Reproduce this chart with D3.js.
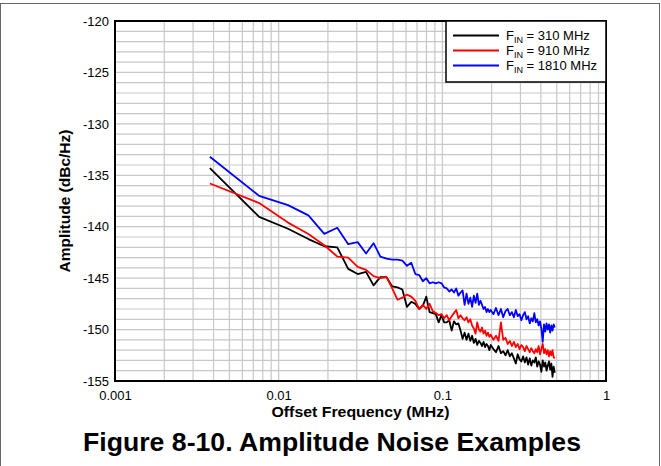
<!DOCTYPE html>
<html><head><meta charset="utf-8">
<script src="https://cdn.jsdelivr.net/npm/d3@7"></script>
<style>body{margin:0;background:#fff;} svg{display:block;font-family:"Liberation Sans",Arial,Helvetica,sans-serif;}</style>
</head><body><svg id="c" width="661" height="466"></svg>
<script>
// Offset frequency in kHz
const freqKHz = [3.8,7.6,11.4,15.2,19,22.8,26.6,30.4,34.2,38,41.8,45.6,49.4,53.2,57,60.8,64.6,68.4,72.2,76,
79.8,83.6,87.4,91.2,95,98.8,102.6,106.4,110.2,114,117.8,121.6,125.4,129.2,133,136.8,140.6,144.4,148.2,152,
155.8,159.6,163.4,167.2,171,174.8,178.6,182.4,186.2,190,193.8,197.6,205.2,212.8,220.4,228,235.6,243.2,250.8,258.4,
266,273.6,281.2,288.8,296.4,304,311.6,319.2,326.8,334.4,342,349.6,357.2,364.8,372.4,380,387.6,395.2,402.8,410.4,
418,425.6,433.2,440.8,448.4,456,463.6,471.2,478.8,486.4];
// Amplitude noise, dBc/Hz
const ampFin310 = [-134.3,-139.05,-140.2,-141.2,-141.9,-142.0,-144.1,-144.6,-144.4,-145.7,-144.9,-144.9,-145.8,-145.9,-146.1,-147.8,-147.3,-147.5,-148.0,-147.7,
-146.8,-148.3,-148.4,-148.5,-149.3,-148.6,-149.3,-149.3,-149.1,-150.1,-149.2,-149.5,-149.4,-150.1,-150.9,-150.3,-151.0,-150.4,-151.1,-150.6,
-151.3,-150.9,-151.5,-151.1,-151.3,-151.6,-151.2,-151.7,-151.4,-151.6,-152.0,-151.5,-151.9,-152.2,-151.6,-152.3,-152.1,-152.5,-152.0,-152.6,
-152.3,-152.8,-153.3,-152.4,-152.9,-153.1,-152.6,-153.2,-152.7,-153.4,-152.8,-153.5,-153.0,-153.2,-152.7,-153.6,-153.1,-153.4,-154.1,-153.0,
-153.6,-153.2,-154.0,-153.5,-153.1,-153.9,-153.3,-154.6,-153.6,-154.2];
const ampFin910 = [-135.8,-137.7,-139.6,-140.7,-141.8,-142.9,-143.0,-143.9,-144.2,-144.8,-145.0,-144.9,-146.0,-147.1,-146.9,-146.6,-146.8,-147.2,-148.0,-147.6,
-148.0,-147.5,-148.2,-148.4,-148.6,-148.5,-148.9,-148.6,-149.1,-148.7,-148.4,-148.1,-148.9,-148.6,-148.9,-149.1,-148.8,-149.3,-149.0,-149.6,
-149.9,-150.4,-149.3,-150.0,-150.2,-149.8,-150.4,-150.1,-150.6,-150.3,-150.7,-150.5,-151.0,-150.6,-151.1,-149.3,-151.0,-150.8,-151.4,-151.1,
-151.6,-151.2,-151.7,-151.4,-151.9,-151.5,-151.7,-152.1,-151.6,-151.9,-152.2,-151.8,-152.1,-152.3,-151.9,-152.2,-151.6,-152.4,-151.9,-151.4,
-152.3,-151.9,-152.4,-152.0,-152.6,-152.1,-152.5,-152.0,-152.7,-152.8];
const ampFin1810 = [-133.2,-137.0,-137.9,-138.9,-140.7,-140.1,-141.7,-141.5,-142.6,-141.6,-142.9,-143.1,-143.2,-143.2,-143.3,-143.8,-143.5,-144.6,-144.7,-145.3,
-145.0,-145.5,-145.4,-145.5,-145.4,-145.5,-145.9,-146.0,-146.3,-146.1,-146.4,-146.0,-146.7,-146.4,-146.2,-147.6,-146.5,-147.5,-146.9,-147.8,
-146.7,-147.4,-146.5,-147.6,-147.2,-147.6,-148.0,-147.8,-148.3,-148.0,-148.3,-148.1,-148.5,-147.9,-148.6,-148.0,-148.8,-148.2,-148.0,-148.6,
-148.3,-148.8,-148.1,-148.7,-148.5,-149.1,-148.6,-148.3,-149.0,-148.7,-149.4,-148.9,-149.2,-148.4,-149.3,-149.0,-149.6,-149.2,-149.9,-151.2,
-149.5,-150.2,-149.4,-150.0,-149.5,-150.3,-149.6,-150.1,-149.5,-149.8];
const seriesLabels = ["310 MHz","910 MHz","1810 MHz"];
const seriesColors = ["#000000","#ff0000","#0000ff"];
const xTickValues = [0.001,0.01,0.1,1];
const xTickLabels = ["0.001","0.01","0.1","1"];
const yTickValues = [-120,-125,-130,-135,-140,-145,-150,-155];
const yTickLabels = ["-120","-125","-130","-135","-140","-145","-150","-155"];

const series = [ampFin310, ampFin910, ampFin1810].map((vals,i)=>({
  label: seriesLabels[i], color: seriesColors[i],
  points: freqKHz.map((f,j)=>({f: f/1000, v: vals[j]}))
}));

const svg = d3.select("#c");
const L=115, R=606, T=21, B=381;
const x = d3.scaleLog().domain([0.001,1]).range([L,R]);
const y = d3.scaleLinear().domain([-155,-120]).range([B,T]);

// outer figure border
svg.append("rect").attr("x",0.5).attr("y",3.5).attr("width",659).attr("height",470)
  .attr("fill","none").attr("stroke","#666").attr("stroke-width",1);

// grid
const g = svg.append("g");
g.selectAll("line.vx").data(x.ticks()).join("line")
  .attr("x1",d=>x(d)).attr("x2",d=>x(d)).attr("y1",T).attr("y2",B)
  .attr("stroke","#c8c8c8").attr("stroke-width",1.2);
g.selectAll("line.hy").data(y.ticks(35)).join("line")
  .attr("x1",L).attr("x2",R).attr("y1",d=>y(d)).attr("y2",d=>y(d))
  .attr("stroke","#c8c8c8").attr("stroke-width",1.2);

// data
svg.append("clipPath").attr("id","clip").append("rect").attr("x",L).attr("y",T).attr("width",R-L).attr("height",B-T);
const line = d3.line().x(d=>x(d.f)).y(d=>y(d.v));
svg.append("g").attr("clip-path","url(#clip)").selectAll("path").data(series).join("path")
  .attr("d",d=>line(d.points)).attr("fill","none").attr("stroke",d=>d.color)
  .attr("stroke-width",1.8).attr("stroke-linejoin","round");

// frame
svg.append("rect").attr("x",L).attr("y",T).attr("width",R-L).attr("height",B-T)
  .attr("fill","none").attr("stroke","#000").attr("stroke-width",2);

// axes
const xa = svg.append("g").attr("transform",`translate(0,${B})`)
  .call(d3.axisBottom(x).tickValues(xTickValues).tickFormat((d,i)=>xTickLabels[i]).tickSize(0).tickPadding(10));
xa.select(".domain").remove();
xa.selectAll("text").attr("font-size",13).attr("font-family","Liberation Sans, Arial, sans-serif").attr("fill","#000");
const ya = svg.append("g").attr("transform",`translate(${L},0)`)
  .call(d3.axisLeft(y).tickValues(yTickValues).tickFormat((d,i)=>yTickLabels[i]).tickSize(0).tickPadding(6));
ya.select(".domain").remove();
ya.selectAll("text").attr("font-size",13).attr("font-family","Liberation Sans, Arial, sans-serif").attr("fill","#000");

// axis titles
svg.append("text").attr("x",(L+R)/2).attr("y",417).attr("text-anchor","middle")
  .attr("font-size",15).attr("font-weight","bold")
  .attr("textLength",178).attr("lengthAdjust","spacingAndGlyphs").text("Offset Frequency (MHz)");
svg.append("text").attr("transform",`translate(70,${(T+B)/2}) rotate(-90)`).attr("text-anchor","middle")
  .attr("font-size",15.5).attr("font-weight","bold").text("Amplitude (dBc/Hz)");

// legend
const lg = svg.append("g");
lg.append("rect").attr("x",446).attr("y",T).attr("width",R-446).attr("height",61)
  .attr("fill","#fff").attr("stroke","#000").attr("stroke-width",1.5);
const rows = [35.5,50.5,65.5];
series.forEach((s,i)=>{
  lg.append("line").attr("x1",453).attr("x2",499).attr("y1",rows[i]).attr("y2",rows[i])
    .attr("stroke",s.color).attr("stroke-width",1.8);
  const t = lg.append("text").attr("x",506).attr("y",rows[i]+4.5).attr("font-size",13);
  t.append("tspan").text("F");
  t.append("tspan").attr("font-size",9).attr("dy",3).text("IN");
  t.append("tspan").attr("dy",-3).text(" = "+s.label);
});

// caption
svg.append("text").attr("x",332).attr("y",451).attr("text-anchor","middle")
  .attr("font-size",26).attr("font-weight","bold")
  .attr("textLength",498).attr("lengthAdjust","spacingAndGlyphs").text("Figure 8-10. Amplitude Noise Examples");
</script></body></html>
